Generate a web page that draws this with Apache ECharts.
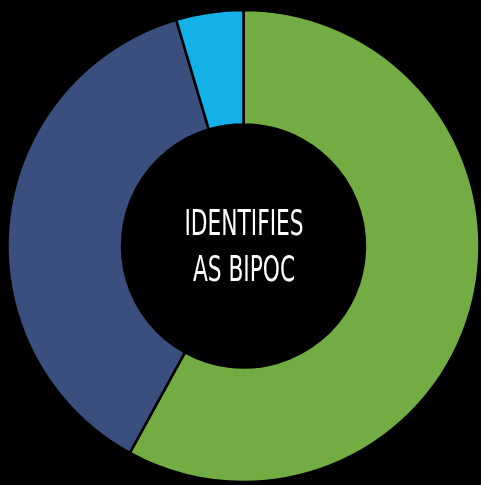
<!DOCTYPE html>
<html>
<head>
<meta charset="utf-8">
<script src="https://cdn.jsdelivr.net/npm/echarts@6/dist/echarts.min.js"></script>
<style>
  html, body { margin: 0; padding: 0; background: #000; }
  #chart { width: 481px; height: 485px; }
</style>
</head>
<body>
<div id="chart"></div>
<script>
// slices, clockwise from 12 o'clock
const categories = ['Green', 'Dark blue', 'Light blue']
const values = [58, 37.4, 4.6]
const colors = ['#72ac43', '#3a4f7e', '#14b0e8']
const centerText = 'IDENTIFIES\nAS BIPOC'

const chart = echarts.init(document.getElementById('chart'))
chart.setOption({
  backgroundColor: '#000',
  animation: false,
  graphic: [{
    type: 'text',
    x: 244,
    y: 249,
    scaleX: 0.69,
    style: {
      text: centerText,
      fill: '#fff',
      font: '35px "Liberation Sans Narrow", "DejaVu Sans Condensed", sans-serif',
      lineHeight: 46,
      align: 'center',
      verticalAlign: 'middle'
    }
  }],
  series: [{
    type: 'pie',
    center: [243.5, 246],
    radius: [121.5, 236],
    startAngle: 90,
    clockwise: true,
    label: { show: false },
    labelLine: { show: false },
    itemStyle: { borderColor: '#000', borderWidth: 2.5 },
    data: categories.map((c, i) => ({
      name: c,
      value: values[i],
      itemStyle: { color: colors[i] }
    }))
  }]
})
</script>
</body>
</html>
